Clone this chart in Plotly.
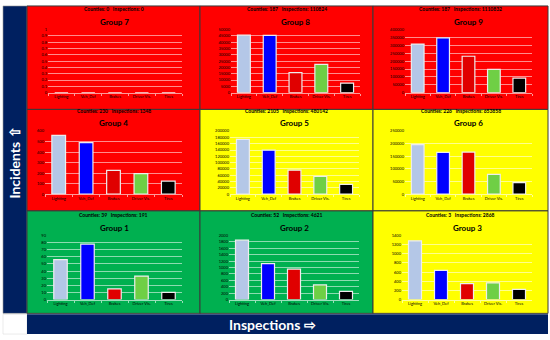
import plotly.graph_objects as go

W, H = 550, 340

categories = ["Lighting", "Veh_Def", "Brakes", "Driver Vis.", "Tires"]
bar_colors = ["#B4C7E7", "#0000FF", "#E00000", "#6FCF45", "#000000"]

# values per group
group7 = [0, 0, 0, 0, 0]
group8 = [45600, 45400, 15900, 22400, 7550]
group9 = [308000, 348000, 231000, 148000, 92000]
group4 = [560, 491, 227, 196, 124]
group5 = [174000, 139600, 76000, 56000, 31000]
group6 = [196600, 165400, 166700, 78100, 45600]
group1 = [56, 78, 15, 33, 10]
group2 = [1855, 1120, 953, 456, 259]
group3 = [1284, 638, 348, 363, 225]

group_titles = ["Group 7", "Group 8", "Group 9",
                "Group 4", "Group 5", "Group 6",
                "Group 1", "Group 2", "Group 3"]
group_headers = ["Counties: 0   Inspections: 0",
                 "Counties: 187   Inspections: 110824",
                 "Counties: 187   Inspections: 1110832",
                 "Counties: 230   Inspections: 1348",
                 "Counties: 2105   Inspections: 480142",
                 "Counties: 226   Inspections: 653858",
                 "Counties: 39   Inspections: 191",
                 "Counties: 52   Inspections: 4621",
                 "Counties: 3   Inspections: 2868"]
group_values = [group7, group8, group9, group4, group5, group6, group1, group2, group3]
y_max = [1, 50000, 400000, 600, 200000, 250000, 90, 2000, 1400]
y_step = [0.1, 5000, 50000, 100, 20000, 50000, 10, 200, 200]
panel_colors = ["#FF0000", "#FF0000", "#FF0000",
                "#FF0000", "#FFFF00", "#FFFF00",
                "#00B050", "#00B050", "#FFFF00"]

# layout geometry (pixels)
col_edges = [(27, 200), (200, 373), (373, 548)]
row_edges = [(3, 108), (108, 211), (211, 315)]
plot_x = [(48, 182), (231, 360), (405, 532),
          (45, 182), (230, 359), (405, 532),
          (47, 182), (229, 359), (402, 532)]
plot_y = [(27, 91), (130, 194), (236, 301)]
header_y = [6, 110, 215]
title_y = [19, 122, 228]

def px(x):
    return x / W

def py(y):
    return 1 - y / H

FONT = "Lato, 'Open Sans', sans-serif"
fig = go.Figure()
shapes = []
annotations = []

def note(text, x, y, size, color="black", angle=0):
    annotations.append(dict(text=text, x=px(x), y=py(y), xref="paper", yref="paper",
                            xanchor="center", yanchor="middle", showarrow=False, textangle=angle,
                            font=dict(color=color, size=size, family=FONT)))

# navy side bars
shapes.append(dict(type="rect", xref="paper", yref="paper", x0=px(3), x1=px(27), y0=py(315), y1=py(3),
                   fillcolor="#002060", line=dict(color="#9a9a9a", width=0.6), layer="below"))
shapes.append(dict(type="rect", xref="paper", yref="paper", x0=px(3), x1=px(27), y0=py(336), y1=py(316),
                   fillcolor="white", line=dict(color="#dddddd", width=0.6), layer="below"))
shapes.append(dict(type="rect", xref="paper", yref="paper", x0=px(27), x1=px(548), y0=py(336), y1=py(316),
                   fillcolor="#002060", line=dict(width=0), layer="below"))
note("<b>Incidents ⇧</b>", 15, 162, 14, "white", -90)
note("<b>Inspections ⇨</b>", 272, 326, 14, "white")

layout_axes = {}
for i in range(9):
    r, c = divmod(i, 3)
    x0, x1 = col_edges[c]
    y0, y1 = row_edges[r]
    shapes.append(dict(type="rect", xref="paper", yref="paper", x0=px(x0), x1=px(x1), y0=py(y1), y1=py(y0),
                       fillcolor=panel_colors[i], line=dict(color="#3a3a3a", width=1), layer="below"))
    note("<b>" + group_headers[i] + "</b>", (x0 + x1) / 2, header_y[r], 5)
    pxa, pxb = plot_x[i]
    pya, pyb = plot_y[r]
    note("<b>" + group_titles[i] + "</b>", (pxa + pxb) / 2, title_y[r], 8)
    n = "" if i == 0 else str(i + 1)
    fig.add_trace(go.Bar(x=categories, y=group_values[i], xaxis="x" + n, yaxis="y" + n,
                         marker=dict(color=bar_colors, line=dict(color="#EDEDED", width=1.2)),
                         width=0.5, showlegend=False))
    layout_axes["xaxis" + n] = dict(domain=[px(pxa), px(pxb)], anchor="y" + n,
                                    showline=True, linecolor="rgba(255,255,255,0.6)", linewidth=1,
                                    showgrid=False, ticks="outside", tickson="boundaries", ticklen=2,
                                    tickcolor="rgba(255,255,255,0.6)", tickangle=0,
                                    tickfont=dict(size=4, color="black", family=FONT),
                                    fixedrange=True)
    layout_axes["yaxis" + n] = dict(domain=[py(pyb), py(pya)], anchor="x" + n,
                                    range=[0, y_max[i]], dtick=y_step[i], tick0=0,
                                    tickformat=("" if i == 0 else "d"),
                                    showgrid=True, gridcolor="rgba(255,255,255,0.55)", gridwidth=1,
                                    zeroline=False, showline=False,
                                    tickfont=dict(size=4, color="black", family=FONT),
                                    ticklen=0, fixedrange=True)

fig.update_layout(width=W, height=H, margin=dict(l=0, r=0, t=0, b=0),
                  paper_bgcolor="white", plot_bgcolor="rgba(0,0,0,0)",
                  shapes=shapes, annotations=annotations, bargap=0.5, **layout_axes)
fig.write_html("out.html", config={"displayModeBar": False},
               post_script="document.body.style.margin='0';document.body.style.padding='0';")
